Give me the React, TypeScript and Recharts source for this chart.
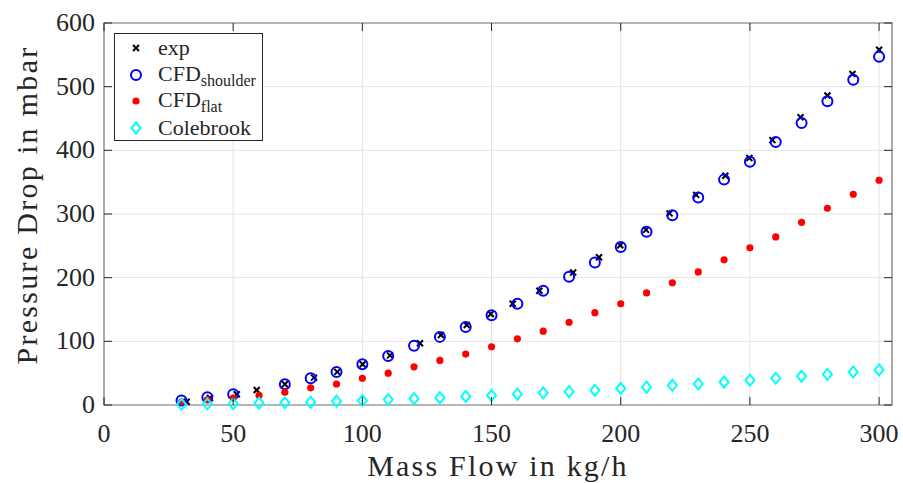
import React from "react"
import { ScatterChart, Scatter, XAxis, YAxis, CartesianGrid, ReferenceArea } from "recharts"

// mass flow steps used by the CFD runs and the Colebrook estimate
const massFlow = [30, 40, 50, 60, 70, 80, 90, 100, 110, 120, 130, 140, 150, 160, 170, 180, 190, 200, 210, 220, 230, 240, 250, 260, 270, 280, 290, 300]
const shoulderDrop = [7, 12, 17, null, 32.5, 42, 52, 64, 77, 93, 107, 122.5, 141, 159, 179.5, 201.5, 224, 248, 272, 298, 326, 354, 382, 413, 443, 477, 511, 547]
const flatDrop = [5, 8, 11, 15, 20, 27, 33, 42, 50, 60, 70, 80, 91.5, 104, 116, 130, 145, 159, 176, 192, 209, 228, 247, 264, 287, 309, 331, 353]
const colebrookDrop = [1, 1.5, 2, 3, 3.5, 4.5, 6, 7, 8.5, 10, 11.5, 13.5, 15, 17, 19, 21, 23, 26, 28, 31, 33, 36, 39, 42, 45, 48, 52, 55]

// measurements (flow values are not exactly on the 10 kg/h grid)
const expFlow = [32, 41, 51.4, 59.1, 70, 81.3, 90.3, 100.1, 110.7, 122.3, 130.4, 140.4, 149.7, 158.2, 168.5, 181.6, 191.6, 199.8, 209.8, 218.9, 229.2, 240.5, 249.8, 258.7, 269.6, 280, 289.7, 300]
const expDrop = [5, 11, 17, 23.5, 32.5, 43, 52, 64, 78, 97, 110, 125.6, 143, 159, 179.5, 208, 232, 251, 275, 301, 330, 360, 388, 416, 452, 486, 520, 558]

const xTicks = [0, 50, 100, 150, 200, 250, 300]
const yTicks = [0, 100, 200, 300, 400, 500, 600]

const toPoints = (xs, ys) =>
  xs.map((x, i) => ({ x, y: ys[i] })).filter((p) => p.y !== null)

const expData = toPoints(expFlow, expDrop)
const shoulderData = toPoints(massFlow, shoulderDrop)
const flatData = toPoints(massFlow, flatDrop)
const colebrookData = toPoints(massFlow, colebrookDrop)

const W = 903
const H = 483
const PLOT_LEFT = 104
const PLOT_RIGHT = 892
const PLOT_TOP = 23
const PLOT_BOTTOM = 405
const FONT = "'Liberation Serif', 'DejaVu Serif', serif"
const TEXT_COLOR = "#262626"

const CrossMark = ({ cx, cy }) => (
  <g stroke="#000" strokeWidth={2}>
    <line x1={cx - 3} y1={cy - 3} x2={cx + 3} y2={cy + 3} />
    <line x1={cx - 3} y1={cy + 3} x2={cx + 3} y2={cy - 3} />
  </g>
)
const CircleMark = ({ cx, cy }) => <circle cx={cx} cy={cy} r={5} fill="none" stroke="#0000ff" strokeWidth={2} />
const DotMark = ({ cx, cy }) => <circle cx={cx} cy={cy} r={3.6} fill="#ff0000" />
const DiamondMark = ({ cx, cy }) => (
  <path d={`M${cx},${cy - 5.5}L${cx + 4.5},${cy}L${cx},${cy + 5.5}L${cx - 4.5},${cy}Z`} fill="none" stroke="#00ffff" strokeWidth={2} />
)

const XTick = ({ x, payload }) => (
  <g>
    <line x1={x} x2={x} y1={PLOT_BOTTOM} y2={PLOT_BOTTOM - 8} stroke={TEXT_COLOR} />
    <line x1={x} x2={x} y1={PLOT_TOP} y2={PLOT_TOP + 8} stroke={TEXT_COLOR} />
    <text x={x} y={PLOT_BOTTOM + 37} textAnchor="middle" fontSize={26} fill={TEXT_COLOR} fontFamily={FONT}>
      {payload.value}
    </text>
  </g>
)

const YTick = ({ y, payload }) => (
  <g>
    <line x1={PLOT_LEFT} x2={PLOT_LEFT + 8} y1={y} y2={y} stroke={TEXT_COLOR} />
    <line x1={PLOT_RIGHT} x2={PLOT_RIGHT - 8} y1={y} y2={y} stroke={TEXT_COLOR} />
    <text x={PLOT_LEFT - 9} y={y + 8} textAnchor="end" fontSize={26} fill={TEXT_COLOR} fontFamily={FONT}>
      {payload.value}
    </text>
  </g>
)

const XLabel = () => (
  <text x={498} y={476} textAnchor="middle" fontSize={30} letterSpacing={2.2} fill={TEXT_COLOR} fontFamily={FONT}>
    Mass Flow in kg/h
  </text>
)

const YLabel = () => (
  <text
    transform="translate(37,205) rotate(-90)"
    textAnchor="middle"
    fontSize={30}
    letterSpacing={2.3}
    fill={TEXT_COLOR}
    fontFamily={FONT}
  >
    Pressure Drop in mbar
  </text>
)

const legendItems = [
  { name: "exp", sub: "", Mark: CrossMark },
  { name: "CFD", sub: "shoulder", Mark: CircleMark },
  { name: "CFD", sub: "flat", Mark: DotMark },
  { name: "Colebrook", sub: "", Mark: DiamondMark },
]

const LegendBox = () => (
  <div
    style={{
      position: "absolute",
      left: 114,
      top: 33,
      width: 149,
      height: 108,
      border: "1px solid #262626",
      background: "#fff",
      fontFamily: FONT,
      fontSize: 22,
      color: TEXT_COLOR,
      boxSizing: "border-box",
      paddingTop: 1,
    }}
  >
    {legendItems.map(({ name, sub, Mark }, i) => (
      <div key={i} style={{ display: "flex", alignItems: "center", height: 26.5, lineHeight: "26px" }}>
        <svg width={43} height={26}>
          <Mark cx={21} cy={13} />
        </svg>
        <span>
          {name}
          {sub && <span style={{ fontSize: 16, position: "relative", top: 5 }}>{sub}</span>}
        </span>
      </div>
    ))}
  </div>
)

export default function App() {
  return (
    <div style={{ position: "absolute", left: 0, top: 0, width: W, height: H, background: "#fff" }}>
      <ScatterChart
        width={W}
        height={H}
        margin={{ top: PLOT_TOP, right: W - PLOT_RIGHT, left: 0, bottom: 0 }}
        style={{ fontFamily: FONT }}
      >
        <CartesianGrid stroke="#e3e3e3" strokeWidth={1} />
        <XAxis
          type="number"
          dataKey="x"
          domain={[0, 305]}
          ticks={xTicks}
          height={H - PLOT_BOTTOM}
          axisLine={false}
          tickLine={false}
          tick={XTick}
          label={{ content: XLabel }}
        />
        <YAxis
          type="number"
          dataKey="y"
          domain={[0, 600]}
          ticks={yTicks}
          width={PLOT_LEFT}
          axisLine={false}
          tickLine={false}
          tick={YTick}
          label={{ content: YLabel }}
        />
        <ReferenceArea x1={0} x2={305} y1={0} y2={600} fill="none" stroke="#7a7a7a" strokeWidth={1.2} fillOpacity={0} />
        <Scatter name="exp" data={expData} shape={CrossMark} isAnimationActive={false} />
        <Scatter name="CFD shoulder" data={shoulderData} shape={CircleMark} isAnimationActive={false} />
        <Scatter name="CFD flat" data={flatData} shape={DotMark} isAnimationActive={false} />
        <Scatter name="Colebrook" data={colebrookData} shape={DiamondMark} isAnimationActive={false} />
      </ScatterChart>
      <LegendBox />
    </div>
  )
}
